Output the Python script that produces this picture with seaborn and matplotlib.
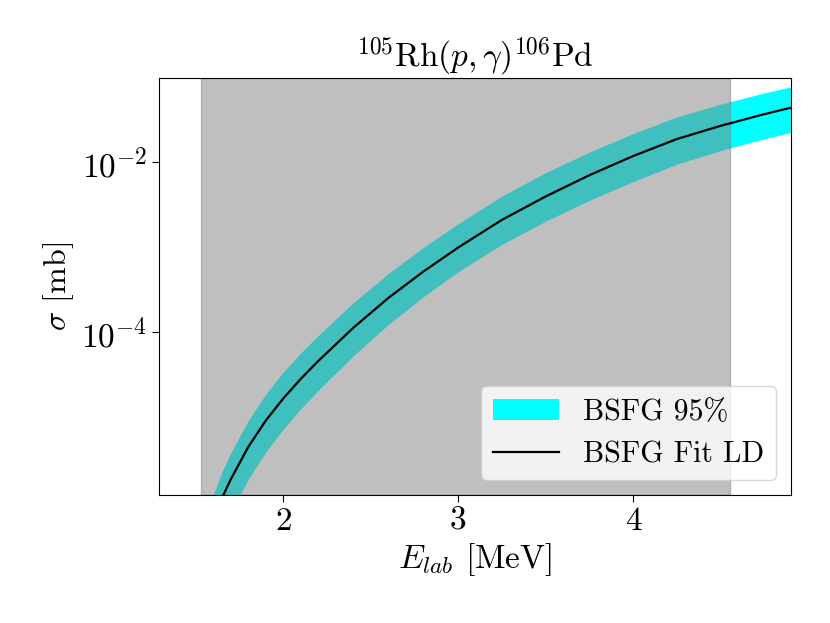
import matplotlib
matplotlib.use('Agg')
import matplotlib.pyplot as plt
import matplotlib.ticker as mticker
import seaborn as sns
import numpy as np
import pandas as pd

# --
# Data (log10 of sigma in mb)

energy = [1.60, 1.65, 1.70, 1.80, 1.90, 2.00, 2.10, 2.20, 2.30, 2.40,
          2.50, 2.60, 2.70, 2.80, 2.90, 3.00, 3.25, 3.50, 3.75, 4.00,
          4.25, 4.50, 4.75, 4.90]
log_fit = [-6.22, -5.95, -5.73, -5.35, -5.04, -4.78, -4.55, -4.34, -4.145, -3.95,
           -3.775, -3.60, -3.445, -3.29, -3.148, -3.006, -2.681, -2.406, -2.156, -1.931,
           -1.731, -1.576, -1.4385, -1.3635]
log_hi = [-5.91, -5.64, -5.42, -5.04, -4.73, -4.47, -4.245, -4.04, -3.847, -3.655,
          -3.485, -3.312, -3.159, -3.006, -2.866, -2.726, -2.401, -2.126, -1.884, -1.666,
          -1.471, -1.321, -1.1885, -1.1185]
log_lo = [-6.62, -6.345, -6.12, -5.73, -5.41, -5.14, -4.902, -4.684, -4.481, -4.278,
          -4.095, -3.912, -3.749, -3.586, -3.436, -3.291, -2.968, -2.696, -2.451, -2.231,
          -2.026, -1.866, -1.7285, -1.6535]

exp_range = (1.53, 4.554)   # shaded region of experimental data

df = pd.DataFrame({'E': energy,
                   'fit': np.power(10.0, log_fit),
                   'hi': np.power(10.0, log_hi),
                   'lo': np.power(10.0, log_lo)})

# --
# Fonts: computer modern look without latex

plt.rcParams['font.family'] = 'serif'
plt.rcParams['font.serif'] = ['cmr10', 'DejaVu Serif']
plt.rcParams['mathtext.fontset'] = 'cm'
plt.rcParams['axes.formatter.use_mathtext'] = True
plt.rcParams['axes.unicode_minus'] = False

fig, ax = plt.subplots(figsize=(8.3, 6.23), dpi=100)
fig.subplots_adjust(left=0.1916, right=0.953, top=0.8748, bottom=0.2055)

ax.fill_between(df['E'], df['lo'], df['hi'], color='cyan', linewidth=0,
                label='BSFG 95%')
ax.axvspan(exp_range[0], exp_range[1], color='gray', alpha=0.5)
sns.lineplot(data=df, x='E', y='fit', color='black', linewidth=1.6,
             label='BSFG Fit LD', ax=ax)

ax.set_yscale('log')
ax.set_xlim(1.29, 4.903)
ax.set_ylim(1.22e-6, 0.097)
ax.yaxis.set_major_locator(mticker.FixedLocator([1e-4, 1e-2]))
ax.yaxis.set_minor_locator(mticker.NullLocator())
ax.xaxis.set_major_locator(mticker.FixedLocator([2, 3, 4]))
ax.xaxis.set_major_formatter(mticker.FormatStrFormatter('%d'))

ax.tick_params(labelsize=24, length=5)
ax.set_xlabel(r'$E_{lab}$ [MeV]', fontsize=24)
ax.set_ylabel(r'$\sigma$ [mb]', fontsize=23)
ax.set_title(r'$^{105}$Rh$(p,\gamma)^{106}$Pd', fontsize=24)

ax.legend(loc='lower right', fontsize=21.5, handlelength=2.2)

fig.savefig('out.png', dpi=100)
